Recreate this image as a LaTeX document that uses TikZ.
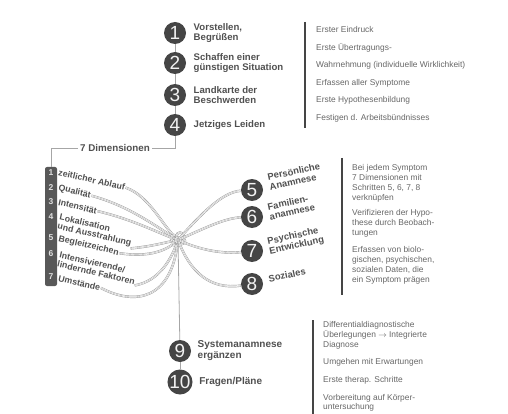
\documentclass[tikz,border=0pt]{standalone}
\usepackage{fontspec}
\setmainfont{Liberation Sans}
\usetikzlibrary{positioning}

\definecolor{numgray}{HTML}{454545}
\definecolor{txtgray}{HTML}{505050}
\definecolor{notegray}{HTML}{666666}

\begin{document}
\begin{tikzpicture}[x=1pt, y=-1pt,
	stepnum/.style={circle, fill=numgray, text=gray!10, inner sep=0pt, minimum size=22pt, font=\fontsize{19}{19}\selectfont},
	steptext/.style={anchor=west, align=left, text=txtgray, font=\bfseries\fontsize{9.6}{10.5}\selectfont},
	dimtext/.style={anchor=west, align=left, rotate=-13, inner sep=0.5pt, text=txtgray, font=\bfseries\fontsize{8.8}{9.2}\selectfont},
	anamtext/.style={anchor=west, align=left, rotate=12, inner sep=0.5pt, text=txtgray, font=\bfseries\fontsize{9.4}{10}\selectfont},
	note/.style={anchor=west, align=left, inner sep=0pt, text=notegray, font=\fontsize{8.4}{10}\selectfont},
	barline/.style={draw=numgray, line width=1.2pt},
	cord/.style={draw=gray!85, line width=0.45pt, double=white, double distance=1.5pt,
		postaction={draw=gray!60, line width=0.35pt}},
	link/.style={draw=gray!70, line width=0.8pt}]
	
	\useasboundingbox (0,0) rectangle (508,414);
	
	% --- 1. Steps 1 to 4 ---
	\foreach \i/\y in {1/33, 2/63, 3/95, 4/125}
		\node[stepnum] (c\i) at (175,\y) {\i};
	\draw[link] (c1) -- (c2) (c2) -- (c3) (c3) -- (c4);
	
	\node[steptext, right=4pt of c1] (s1) {Vorstellen,\\Begrüßen};
	\node[steptext, right=4pt of c2] (s2) {Schaffen einer\\günstigen Situation};
	\node[steptext, right=4pt of c3] (s3) {Landkarte der\\Beschwerden};
	\node[steptext, right=4pt of c4] (s4) {Jetziges Leiden};
	
	% --- 2. Notes for steps 1 to 4 ---
	\coordinate (a0) at (305,22);
	\coordinate (a1) at (305,128);
	\draw[barline] (a0) -- (a1);
	\foreach \t/\y [count=\k] in {Erster Eindruck/30, Erste Übertragungs-/48,
		{Wahrnehmung (individuelle Wirklichkeit)}/65, Erfassen aller Symptome/83,
		Erste Hypothesenbildung/100, Festigen d. Arbeitsbündnisses/118}
		\node[note] (na\k) at (316,\y) {\t};
	
	% --- 3. The 7 dimensions ---
	\node[fill=white, inner sep=2pt, text=txtgray, font=\bfseries\fontsize{9.8}{10}\selectfont] (dims) at (115,148) {7 Dimensionen};
	\node[fill=numgray!90, rounded corners=2pt, inner sep=0pt, minimum width=12pt, minimum height=119pt] (bar) at (51,226.5) {};
	\draw[link] (c4) |- (dims);
	\draw[link] (dims) -| (bar.north);
	
	\foreach \i/\y in {1/173, 2/188, 3/202, 4/217, 5/238, 6/254, 7/277}
		\node[text=gray!25, font=\bfseries\fontsize{8.5}{8.5}\selectfont] (n\i) at (51,\y) {\i};
	
	\node[dimtext] (d1) at (58,172) {zeitlicher Ablauf};
	\node[dimtext] (d2) at (58,188) {Qualität};
	\node[dimtext] (d3) at (58,202) {Intensität};
	\node[dimtext] (d4) at (58,222) {Lokalisation\\und Ausstrahlung};
	\node[dimtext] (d5) at (58,239) {Begleitzeichen};
	\node[dimtext] (d6) at (58,259) {Intensivierende/\\lindernde Faktoren};
	\node[dimtext] (d7) at (58,278) {Umstände};
	
	% --- 4. The knot ---
	\coordinate (knot) at (178,240);
	\draw[cord] (d1.east) .. controls (150,196) and (162,226) .. (knot);
	\draw[cord] (d2.east) .. controls (130,206) and (158,228) .. (knot);
	\draw[cord] (d3.east) .. controls (135,220) and (160,234) .. (knot);
	\draw[cord] (d4.south east) .. controls (155,246) and (166,242) .. (knot);
	\draw[cord] (d5.east) .. controls (150,258) and (168,250) .. (knot);
	\draw[cord] (d6.south east) .. controls (160,281) and (172,258) .. (knot);
	\draw[cord] (d7.east) .. controls (135,306) and (172,300) .. (knot);
	\foreach \dx/\dy/\r in {-4/-2/3, 2/-4/3.5, 4/1/3, -2/3/3, 0/0/2.5}
		\draw[cord, shift={(knot)}] (\dx,\dy) circle[radius=\r];
	
	% --- 5. Steps 5 to 8 ---
	\foreach \i/\y in {5/190, 6/217, 7/251, 8/284}
		\node[stepnum] (c\i) at (252,\y) {\i};
	\draw[cord] (knot) .. controls (200,215) and (222,192) .. (c5);
	\draw[cord] (knot) .. controls (205,228) and (225,218) .. (c6);
	\draw[cord] (knot) .. controls (200,250) and (222,254) .. (c7);
	\draw[cord] (knot) .. controls (190,272) and (210,290) .. (c8);
	
	\node[anamtext] (r5) at (268,182) {Persönliche\\Anamnese};
	\node[anamtext] (r6) at (268,212) {Familien-\\anamnese};
	\node[anamtext] (r7) at (268,247) {Psychische\\Entwicklung};
	\node[anamtext] (r8) at (268,279) {Soziales};
	
	% --- 6. Notes for steps 5 to 8 ---
	\coordinate (b0) at (342,158);
	\coordinate (b1) at (342,295);
	\draw[barline] (b0) -- (b1);
	\node[note] (nb1) at (352,183) {Bei jedem Symptom\\7 Dimensionen mit\\Schritten 5, 6, 7, 8\\verknüpfen};
	\node[note] (nb2) at (352,223) {Verifizieren der Hypo-\\these durch Beobach-\\tungen};
	\node[note] (nb3) at (352,265) {Erfassen von biolo-\\gischen, psychischen,\\sozialen Daten, die\\ein Symptom prägen};
	
	% --- 7. Steps 9 and 10 ---
	\node[stepnum] (c9) at (180,351) {9};
	\node[stepnum] (c10) at (180,382) {10};
	\draw[link] (knot) -- (c9);
	\draw[link] (c9) -- (c10);
	\node[steptext, right=3pt of c9, font=\bfseries\fontsize{10}{11}\selectfont] (s9) {Systemanamnese\\ergänzen};
	\node[steptext, right=3pt of c10, font=\bfseries\fontsize{10}{11}\selectfont] (s10) {Fragen/Pläne};
	
	% --- 8. Notes for steps 9 and 10 ---
	\coordinate (e0) at (313,320);
	\coordinate (e1) at (313,414);
	\draw[barline] (e0) -- (e1);
	\node[note] (nc1) at (323,335) {Differentialdiagnostische\\Überlegungen $\rightarrow$ Integrierte\\Diagnose};
	\node[note] (nc2) at (323,362) {Umgehen mit Erwartungen};
	\node[note] (nc3) at (323,380) {Erste therap. Schritte};
	\node[note, font=\fontsize{8.4}{9}\selectfont] (nc4) at (323,402.5) {Vorbereitung auf Körper-\\untersuchung};
	
\end{tikzpicture}
\end{document}
